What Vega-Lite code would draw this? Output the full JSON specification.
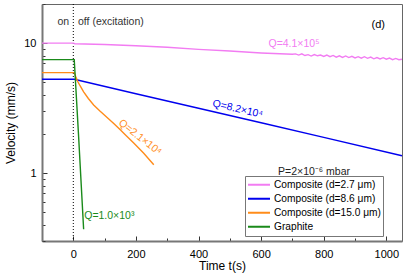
{
  "$schema": "https://vega.github.io/schema/vega-lite/v6.json",
  "width": 360,
  "height": 237,
  "autosize": {"type": "none"},
  "padding": {"left": 42, "top": 4, "right": 7, "bottom": 37},
  "config": {
    "font": "Liberation Sans",
    "view": {"stroke": "#666", "strokeWidth": 1},
    "axis": {
      "grid": false,
      "domainColor": "#777",
      "domainWidth": 2,
      "tickColor": "#333",
      "labelFont": "Liberation Sans",
      "titleFont": "Liberation Sans",
      "labelFontSize": 11,
      "titleFontSize": 12,
      "titleFontWeight": "normal",
      "labelColor": "#000",
      "titleColor": "#000",
      "labelOverlap": false
    }
  },
  "datasets": {
    "lines": [
      {"series": "Composite (d=2.7 μm)", "t": -100, "v": 10.0},
      {"series": "Composite (d=2.7 μm)", "t": 0, "v": 10.0},
      {"series": "Composite (d=2.7 μm)", "t": 5, "v": 9.9},
      {"series": "Composite (d=2.7 μm)", "t": 100, "v": 9.75},
      {"series": "Composite (d=2.7 μm)", "t": 200, "v": 9.55},
      {"series": "Composite (d=2.7 μm)", "t": 300, "v": 9.3},
      {"series": "Composite (d=2.7 μm)", "t": 400, "v": 8.95},
      {"series": "Composite (d=2.7 μm)", "t": 500, "v": 8.7},
      {"series": "Composite (d=2.7 μm)", "t": 600, "v": 8.4},
      {"series": "Composite (d=2.7 μm)", "t": 700, "v": 8.2},
      {"series": "Composite (d=2.7 μm)", "t": 710, "v": 8.26},
      {"series": "Composite (d=2.7 μm)", "t": 720, "v": 8.09},
      {"series": "Composite (d=2.7 μm)", "t": 730, "v": 8.27},
      {"series": "Composite (d=2.7 μm)", "t": 740, "v": 8.03},
      {"series": "Composite (d=2.7 μm)", "t": 750, "v": 8.15},
      {"series": "Composite (d=2.7 μm)", "t": 760, "v": 7.95},
      {"series": "Composite (d=2.7 μm)", "t": 770, "v": 8.17},
      {"series": "Composite (d=2.7 μm)", "t": 780, "v": 7.99},
      {"series": "Composite (d=2.7 μm)", "t": 790, "v": 8.10},
      {"series": "Composite (d=2.7 μm)", "t": 800, "v": 7.89},
      {"series": "Composite (d=2.7 μm)", "t": 810, "v": 8.10},
      {"series": "Composite (d=2.7 μm)", "t": 820, "v": 7.87},
      {"series": "Composite (d=2.7 μm)", "t": 830, "v": 8.04},
      {"series": "Composite (d=2.7 μm)", "t": 840, "v": 7.80},
      {"series": "Composite (d=2.7 μm)", "t": 850, "v": 7.99},
      {"series": "Composite (d=2.7 μm)", "t": 860, "v": 7.76},
      {"series": "Composite (d=2.7 μm)", "t": 870, "v": 7.97},
      {"series": "Composite (d=2.7 μm)", "t": 880, "v": 7.74},
      {"series": "Composite (d=2.7 μm)", "t": 890, "v": 7.91},
      {"series": "Composite (d=2.7 μm)", "t": 900, "v": 7.69},
      {"series": "Composite (d=2.7 μm)", "t": 910, "v": 7.86},
      {"series": "Composite (d=2.7 μm)", "t": 920, "v": 7.66},
      {"series": "Composite (d=2.7 μm)", "t": 930, "v": 7.86},
      {"series": "Composite (d=2.7 μm)", "t": 940, "v": 7.64},
      {"series": "Composite (d=2.7 μm)", "t": 950, "v": 7.80},
      {"series": "Composite (d=2.7 μm)", "t": 960, "v": 7.57},
      {"series": "Composite (d=2.7 μm)", "t": 970, "v": 7.75},
      {"series": "Composite (d=2.7 μm)", "t": 980, "v": 7.55},
      {"series": "Composite (d=2.7 μm)", "t": 990, "v": 7.72},
      {"series": "Composite (d=2.7 μm)", "t": 1000, "v": 7.52},
      {"series": "Composite (d=2.7 μm)", "t": 1010, "v": 7.67},
      {"series": "Composite (d=2.7 μm)", "t": 1020, "v": 7.46},
      {"series": "Composite (d=2.7 μm)", "t": 1030, "v": 7.62},
      {"series": "Composite (d=2.7 μm)", "t": 1040, "v": 7.45},
      {"series": "Composite (d=2.7 μm)", "t": 1050, "v": 7.52},
      {"series": "Composite (d=8.6 μm)", "t": -100, "v": 5.27},
      {"series": "Composite (d=8.6 μm)", "t": 3, "v": 5.27},
      {"series": "Composite (d=8.6 μm)", "t": 200, "v": 4.08},
      {"series": "Composite (d=8.6 μm)", "t": 400, "v": 3.15},
      {"series": "Composite (d=8.6 μm)", "t": 600, "v": 2.44},
      {"series": "Composite (d=8.6 μm)", "t": 800, "v": 1.88},
      {"series": "Composite (d=8.6 μm)", "t": 1050, "v": 1.36},
      {"series": "Composite (d=15.0 μm)", "t": -100, "v": 5.93},
      {"series": "Composite (d=15.0 μm)", "t": 3, "v": 5.93},
      {"series": "Composite (d=15.0 μm)", "t": 8, "v": 5.5},
      {"series": "Composite (d=15.0 μm)", "t": 14, "v": 5.08},
      {"series": "Composite (d=15.0 μm)", "t": 22, "v": 4.68},
      {"series": "Composite (d=15.0 μm)", "t": 33, "v": 4.22},
      {"series": "Composite (d=15.0 μm)", "t": 48, "v": 3.75},
      {"series": "Composite (d=15.0 μm)", "t": 65, "v": 3.34},
      {"series": "Composite (d=15.0 μm)", "t": 85, "v": 3.0},
      {"series": "Composite (d=15.0 μm)", "t": 108, "v": 2.68},
      {"series": "Composite (d=15.0 μm)", "t": 130, "v": 2.4},
      {"series": "Composite (d=15.0 μm)", "t": 150, "v": 2.15},
      {"series": "Composite (d=15.0 μm)", "t": 170, "v": 1.93},
      {"series": "Composite (d=15.0 μm)", "t": 193, "v": 1.70},
      {"series": "Composite (d=15.0 μm)", "t": 225, "v": 1.42},
      {"series": "Composite (d=15.0 μm)", "t": 257, "v": 1.16},
      {"series": "Graphite", "t": -100, "v": 7.47},
      {"series": "Graphite", "t": 3, "v": 7.47},
      {"series": "Graphite", "t": 17, "v": 1.9},
      {"series": "Graphite", "t": 33, "v": 0.37}
    ],
    "labels": [
      {"t": -32, "v": 14.5, "text": "on", "color": "#333", "angle": 0, "size": 10.5},
      {"t": 120, "v": 14.5, "text": "off (excitation)", "color": "#333", "angle": 0, "size": 10.5},
      {"t": 974, "v": 13.9, "text": "(d)", "color": "#000", "angle": 0, "size": 11},
      {"t": 705, "v": 9.9, "text": "Q=4.1×10⁵", "color": "#F27CF2", "angle": 0, "size": 10.5},
      {"t": 525, "v": 3.1, "text": "Q=8.2×10⁴", "color": "#0000EE", "angle": 13, "size": 10.5},
      {"t": 213, "v": 1.88, "text": "Q=2.1×10⁴", "color": "#FF8C1A", "angle": 38, "size": 10.5},
      {"t": 115, "v": 0.466, "text": "Q=1.0×10³", "color": "#1A8A1A", "angle": 0, "size": 10.5},
      {"t": 769, "v": 1.02, "text": "P=2×10⁻⁶ mbar", "color": "#222", "angle": 0, "size": 10.5}
    ]
  },
  "encoding": {
    "x": {
      "field": "t", "type": "quantitative",
      "scale": {"domain": [-100, 1050], "nice": false, "zero": false},
      "axis": {
        "title": "Time t(s)",
        "values": [-100, 0, 100, 200, 300, 400, 500, 600, 700, 800, 900, 1000],
        "labelExpr": "datum.value % 200 === 0 ? format(datum.value, 'd') : ''",
        "tickSize": {"condition": {"test": "datum.value % 200 === 0", "value": -5}, "value": -3},
        "labelPadding": 12,
        "labelFlush": false,
        "titlePadding": -1
      }
    }
  },
  "layer": [
    {
      "data": {"values": [{"t": 0}]},
      "mark": {"type": "rule", "strokeDash": [1, 2], "color": "#000", "strokeWidth": 1}
    },
    {
      "data": {"name": "lines"},
      "mark": {"type": "line", "strokeWidth": 1.4},
      "encoding": {
        "y": {
          "field": "v", "type": "quantitative",
          "scale": {"type": "log", "domain": [0.3, 20], "nice": false},
          "axis": {
            "title": "Velocity (mm/s)",
            "values": [0.3, 0.4, 0.5, 0.6, 0.7, 0.8, 0.9, 1, 2, 3, 4, 5, 6, 7, 8, 9, 10, 20],
            "format": "d",
            "labelExpr": "datum.value == 1 || datum.value == 10 ? datum.label : ''",
            "tickSize": {"condition": {"test": "datum.value == 1 || datum.value == 10", "value": -5}, "value": -3},
            "labelPadding": 11,
            "titlePadding": 6
          }
        },
        "color": {
          "field": "series", "type": "nominal",
          "scale": {
            "domain": ["Composite (d=2.7 μm)", "Composite (d=8.6 μm)", "Composite (d=15.0 μm)", "Graphite"],
            "range": ["#F27CF2", "#0000EE", "#FF8C1A", "#1A8A1A"]
          },
          "legend": {
            "orient": "none",
            "legendX": 203,
            "legendY": 172,
            "title": null,
            "symbolType": "stroke",
            "symbolSize": 484,
            "symbolStrokeWidth": 2,
            "clipHeight": 13.5,
            "rowPadding": 0,
            "padding": 2,
            "labelFontSize": 10.2,
            "labelFont": "Liberation Sans",
            "labelColor": "#000",
            "labelOffset": 3,
            "labelLimit": 300,
            "strokeColor": "#777",
            "fillColor": "#fff"
          }
        }
      }
    },
    {
      "data": {"name": "labels"},
      "mark": {"type": "text", "align": "center", "baseline": "middle", "font": "Liberation Sans"},
      "encoding": {
        "y": {"field": "v", "type": "quantitative"},
        "text": {"field": "text"},
        "color": {"field": "color", "type": "nominal", "scale": null},
        "angle": {"field": "angle", "type": "quantitative", "scale": null},
        "size": {"field": "size", "type": "quantitative", "scale": null}
      }
    }
  ]
}
